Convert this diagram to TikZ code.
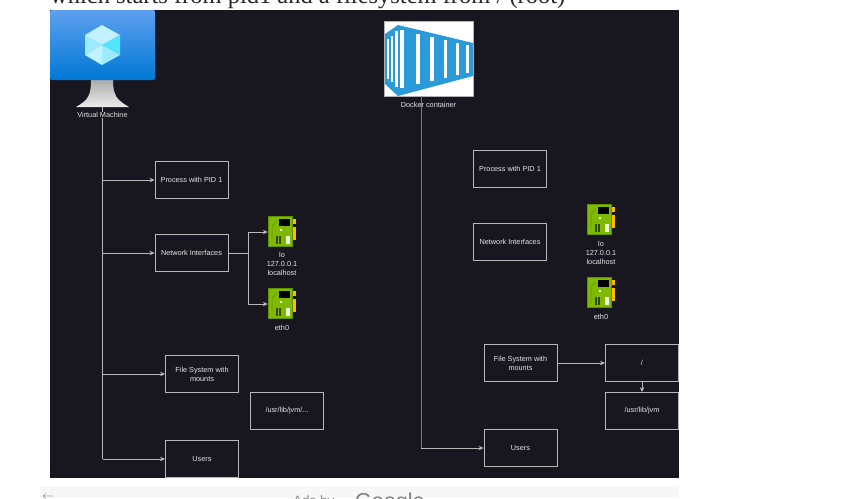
\documentclass[tikz,border=0pt]{standalone}
\usepackage{fontspec}
\setmainfont{Liberation Sans}
\newfontfamily\pagefont{Liberation Serif}
\usetikzlibrary{positioning,arrows.meta}
\definecolor{boardbg}{HTML}{18171F}
\definecolor{linegray}{HTML}{B8B8B8}
\definecolor{chipgreen}{HTML}{7FBA00}
\definecolor{chipdark}{HTML}{5E9200}
\definecolor{chipgold}{HTML}{FFB900}
\definecolor{dockerblue}{HTML}{2A9BD8}
\definecolor{vmtop}{HTML}{5EA0EF}
\definecolor{vmbottom}{HTML}{0078D4}
\definecolor{cubepale}{HTML}{C3F1FF}
\definecolor{cubemid}{HTML}{9CEBFF}
\definecolor{cubebright}{HTML}{50E6FF}
\tikzset{
  box/.style={draw=linegray,line width=0.9pt,minimum width=73pt,minimum height=37pt,align=center,text=white!90!black,font=\fontsize{7.3}{9}\selectfont,inner sep=1pt},
  caption/.style={align=center,text=white!90!black,font=\fontsize{7.3}{9}\selectfont,inner sep=0pt},
  link/.style={draw=linegray,line width=0.9pt,-{Stealth[length=5pt,width=4.5pt,fill=white]}},
  trunk/.style={draw=linegray,line width=1pt},
  nic/.pic={
    \fill[chipgreen] (-13.3,-15.3) rectangle (10.7,14.7);
    \draw[chipdark,line width=0.7pt] (-13.3,-15.3) rectangle (10.7,14.7);
    \fill[chipgold] (11.3,-13) rectangle (14,-8);
    \fill[chipgold] (11.3,-5.3) rectangle (14,8);
    \fill[black] (-3.3,-12.7) rectangle (7.7,-5.7);
    \fill[chipdark!50!black] (-6,3.7) rectangle (-4,12);
    \fill[chipdark!50!black] (-2.7,3.7) rectangle (-0.7,12);
    \fill[white!85!chipgreen] (4.3,4) rectangle (7.7,11.7);
    \fill[white] (-2,-3) rectangle (0,-1);
    \draw[chipdark,line width=0.5pt] (-10,9) -- (-10,-6) -- (-5,-11);
  }
}
\begin{document}
\begin{tikzpicture}[x=1pt,y=-1pt,>=stealth,line join=round]
 	\useasboundingbox (0,0) rectangle (846,498);
 	\fill[white] (0,0) rectangle (846,498);
 	\fill[boardbg] (50,10) rectangle (679,478);
 	\fill[black!3] (40,486) rectangle (679,498);
 	\node[anchor=base west,inner sep=0pt,text=black!85,font=\pagefont\fontsize{24.5}{24.5}\selectfont] (heading) at (50,3) {which starts from pid1 and a filesystem from / (root)};
 	\node[anchor=base west,inner sep=0pt,text=black!55,font=\fontsize{13}{13}\selectfont] (backarrow) at (42,499) {$\leftarrow$};
 	\node[anchor=base west,inner sep=0pt,text=black!45,font=\fontsize{13.5}{13.5}\selectfont] (adsby) at (293,505) {Ads by};
 	\node[anchor=base west,inner sep=0pt,text=black!50,font=\fontsize{21.5}{21.5}\selectfont] (google) at (355,508) {Google};
 	% virtual machine
 	\shade[top color=gray!65,bottom color=gray!15] (91,80) .. controls (91,96) and (88,100) .. (76,107) -- (129,107) .. controls (117,100) and (113,96) .. (113,80) -- cycle;
 	\shade[top color=vmtop,bottom color=vmbottom,rounded corners=2pt] (50,10) rectangle (155,80);
 	\coordinate (cubemidpt) at (102,45);
 	\fill[cubepale] (102,25) -- (120,35) -- (cubemidpt) -- (85,35) -- cycle;
 	\fill[cubemid] (85,35) -- (cubemidpt) -- (85,55) -- cycle;
 	\fill[cubebright] (120,35) -- (cubemidpt) -- (120,55) -- cycle;
 	\fill[cubepale] (85,55) -- (cubemidpt) -- (102,65) -- cycle;
 	\fill[cubemid] (120,55) -- (cubemidpt) -- (102,65) -- cycle;
 	\node[caption] (vm) at (102.5,115) {Virtual Machine};
 	\node[box] (vmproc) at (191.5,180) {Process with PID 1};
 	\node[box] (vmnet) at (191.5,253) {Network Interfaces};
 	\node[box] (vmfs) at (202,374) {File System with\\mounts};
 	\node[box] (vmjvm) at (287,411) {/usr/lib/jvm/...};
 	\node[box] (vmusers) at (202,459) {Users};
 	\pic at (282,232) {nic};
 	\node[inner sep=0pt,minimum size=28pt] (vmlo) at (282,232) {};
 	\pic at (282,304) {nic};
 	\node[inner sep=0pt,minimum size=28pt] (vmeth) at (282,304) {};
 	\node[caption] (vmlotext) at (282,264) {lo\\127.0.0.1\\localhost};
 	\node[caption] (vmethtext) at (282,328) {eth0};
 	\coordinate (vmbus) at (102.5,107);
 	\draw[trunk] (vmbus) -- (vm.north);
 	\draw[trunk] (vm.south) -- (102.5,459);
 	\draw[link] (102.5,180) -- (vmproc.west);
 	\draw[link] (102.5,253) -- (vmnet.west);
 	\draw[link] (102.5,374) -- (vmfs.west);
 	\draw[link] (102.5,459) -- (vmusers.west);
 	\draw[link] (vmnet.east) -- (248,253) |- (vmlo.west);
 	\draw[link] (vmnet.east) -- (248,253) |- (vmeth.west);
 	% docker container
 	\fill[white] (384,21) rectangle (473,96);
 	\draw[gray!60,line width=0.5pt] (384,21) rectangle (473,96);
 	\fill[dockerblue] (385,34) -- (398,25) -- (473,43) -- (473,76) -- (398,96) -- (385,84) -- cycle;
 	\foreach \px/\py/\pw in {387/39/1.5,391/36/2,395/31/2.5,400/30/3.5,416/34/3.5,430/37/3.5,444/40/3,456/43/2.5,466/45/2.5}
 	 	\fill[white] (\px,\py) rectangle ++(\pw,{2*(59-\py)});
 	\coordinate (dkbus) at (421,96);
 	\draw[trunk,black!35!linegray] (dkbus) -- (421,448);
 	\node[caption] (docker) at (428.5,104.5) {Docker container};
 	\node[box] (dkproc) at (510,169) {Process with PID 1};
 	\node[box] (dknet) at (510,242) {Network Interfaces};
 	\node[box] (dkfs) at (520.5,363) {File System with\\mounts};
 	\node[box] (dkroot) at (642,363) {/};
 	\node[box] (dkjvm) at (642,411) {/usr/lib/jvm};
 	\node[box] (dkusers) at (520.5,448) {Users};
 	\pic at (601,220) {nic};
 	\pic at (601,293) {nic};
 	\node[caption] (dklotext) at (601,253) {lo\\127.0.0.1\\localhost};
 	\node[caption] (dkethtext) at (601,317) {eth0};
 	\draw[link] (421,448) -- (dkusers.west);
 	\draw[link] (dkfs.east) -- (dkroot.west);
 	\draw[link] (dkroot.south) -- (dkjvm.north);
 \end{tikzpicture}
\end{document}
